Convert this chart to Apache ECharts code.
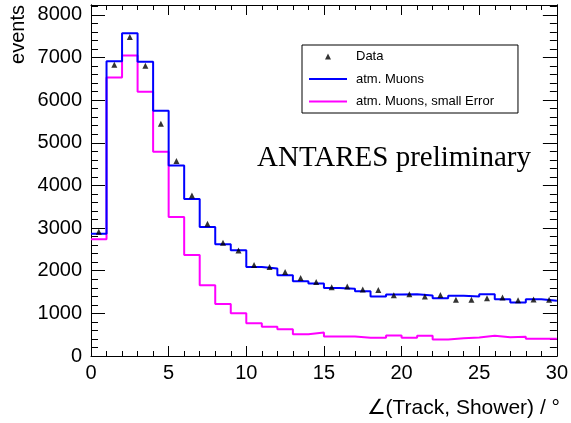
<!DOCTYPE html>
<html>
<head>
<meta charset="utf-8">
<script src="https://cdn.jsdelivr.net/npm/echarts@6/dist/echarts.min.js"></script>
<style>
html,body{margin:0;padding:0;background:#fff;}
#c{width:571px;height:423px;}
</style>
</head>
<body>
<div id="c"></div>
<script>
// Bin lower edges (degrees), bin width 1
var binEdges = [0,1,2,3,4,5,6,7,8,9,10,11,12,13,14,15,16,17,18,19,20,21,22,23,24,25,26,27,28,29];
var binWidth = 1;
// atm. Muons (blue histogram)
var muons = [2869,6913,7569,6897,5749,4468,3681,3026,2618,2478,2089,2049,1892,1752,1698,1597,1574,1518,1393,1440,1447,1420,1354,1410,1393,1447,1330,1253,1330,1293];
// atm. Muons, small Error (magenta histogram)
var muonsSmall = [2735,6529,7044,6194,4789,3260,2370,1658,1222,1002,768,684,628,511,550,457,457,426,426,480,426,473,386,417,433,473,440,450,403,403];
// Data (black triangles at bin centres)
var dataCounts = [2916,6827,7482,6803,5445,4571,3766,3103,2658,2471,2136,2089,1972,1831,1738,1611,1628,1557,1550,1424,1447,1393,1433,1316,1316,1354,1370,1307,1323,1316];
// Axis tick labels
var xTicks = [0,5,10,15,20,25,30];
var yTicks = [0,1000,2000,3000,4000,5000,6000,7000,8000];
var yMax = 8230;

function histPoints(vals){
  var pts = [];
  for (var i=0;i<binEdges.length;i++) pts.push([binEdges[i], vals[i]]);
  var last = binEdges.length-1;
  pts.push([binEdges[last]+binWidth, vals[last]]);
  return pts;
}
var dataPts = [];
for (var i=0;i<binEdges.length;i++) dataPts.push([binEdges[i]+binWidth/2, dataCounts[i]]);

var yMinor = [];
var yStep = (yTicks[1]-yTicks[0])/5;
for (var v=yTicks[0]; v<=yMax+1e-9; v+=yStep) yMinor.push(Math.round(v));

var FONT = 'Liberation Sans, Arial, Helvetica, sans-serif';
var black = '#000';
function plain(v){ return String(v); }

function xAx(pos, showLabel){
  return {
    type:'value', position:pos, min:xTicks[0], max:xTicks[xTicks.length-1], interval:xTicks[1]-xTicks[0],
    axisLine:{show:true, onZero:false, lineStyle:{color:black,width:1}},
    axisTick:{show:true, inside:true, length:10, lineStyle:{color:black,width:1}},
    minorTick:{show:true, splitNumber:5, length:5, lineStyle:{color:black,width:1}},
    axisLabel:{show:showLabel, fontSize:20, color:black, fontFamily:FONT, margin:7, formatter:plain},
    splitLine:{show:false}, minorSplitLine:{show:false}
  };
}
function yAx(pos, values, len, showLabel){
  return {
    type:'value', position:pos, min:0, max:yMax,
    axisLine:{show:true, onZero:false, lineStyle:{color:black,width:1}},
    axisTick:{show:true, inside:true, length:len, customValues:values, lineStyle:{color:black,width:1}},
    axisLabel:{show:showLabel, customValues:yTicks, fontSize:20, color:black, fontFamily:FONT, margin:9, formatter:plain},
    splitLine:{show:false}
  };
}

var chart = echarts.init(document.getElementById('c'), null, {renderer:'canvas'});
chart.setOption({
  animation:false,
  backgroundColor:'#fff',
  grid:{left:91, right:11, top:5, bottom:67, containLabel:false},
  xAxis:[xAx('bottom', true), xAx('top', false)],
  yAxis:[yAx('left', yTicks, 14, true), yAx('left', yMinor, 7, false), yAx('right', yTicks, 14, false), yAx('right', yMinor, 7, false)],
  legend:{
    show:true, orient:'vertical', left:302, top:45,
    padding:[5,24,5,7], itemGap:9.5, itemWidth:38, itemHeight:6, symbolKeepAspect:true,
    borderColor:black, borderWidth:1, borderRadius:0, backgroundColor:'#fff',
    textStyle:{fontSize:13, color:black, fontFamily:FONT, padding:[0,0,0,4]},
    data:[
      {name:'Data', icon:'path://M3,0L6,6L0,6Z', itemStyle:{color:black, borderWidth:0}},
      {name:'atm. Muons', icon:'path://M0,0H38V2H0Z', itemStyle:{color:'#0000ff', borderWidth:0}},
      {name:'atm. Muons, small Error', icon:'path://M0,0H38V2H0Z', itemStyle:{color:'#ff00ff', borderWidth:0}}
    ]
  },
  graphic:[
    {type:'text', x:18, y:5, rotation:Math.PI/2,
     style:{text:'events', font:'20px '+FONT, fill:black, textAlign:'right', textVerticalAlign:'middle'}},
    {type:'text', x:560, y:408,
     style:{text:'\u2220(Track, Shower) / \u00b0', font:'21px '+FONT, fill:black, textAlign:'right', textVerticalAlign:'middle'}},
    {type:'text', x:257, y:158,
     style:{text:'ANTARES preliminary', font:'29px "Liberation Serif", "Times New Roman", serif', fill:black, textAlign:'left', textVerticalAlign:'middle'}}
  ],
  series:[
    {name:'atm. Muons, small Error', type:'line', step:'end', data:histPoints(muonsSmall),
     showSymbol:false, symbol:'none', lineStyle:{color:'#ff00ff', width:2}, itemStyle:{color:'#ff00ff'}, z:3},
    {name:'atm. Muons', type:'line', step:'end', data:histPoints(muons),
     showSymbol:false, symbol:'none', lineStyle:{color:'#0000ff', width:2}, itemStyle:{color:'#0000ff'}, z:4},
    {name:'Data', type:'scatter', data:dataPts, symbol:'triangle', symbolSize:6,
     itemStyle:{color:black}, z:5}
  ]
});
</script>
</body>
</html>
